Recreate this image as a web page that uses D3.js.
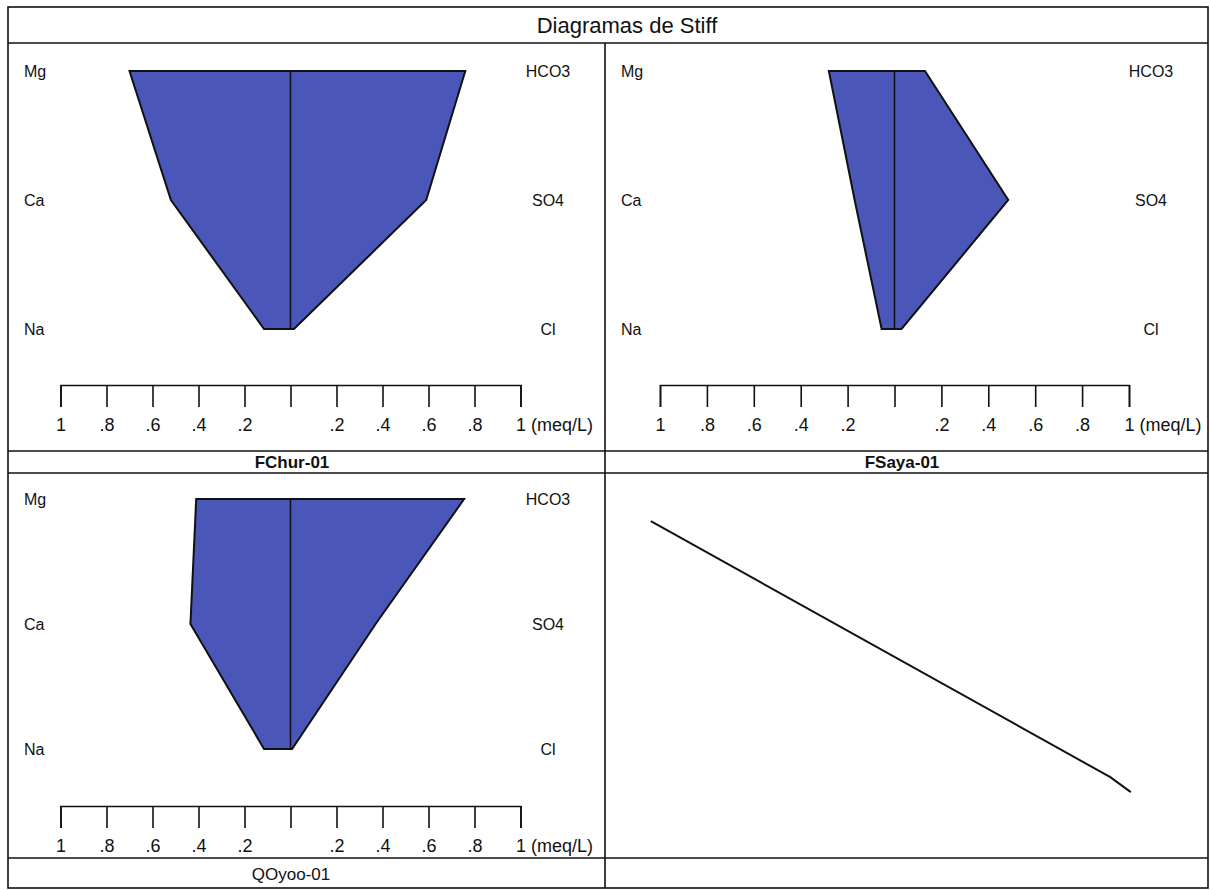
<!DOCTYPE html>
<html>
<head>
<meta charset="utf-8">
<script src="https://cdn.jsdelivr.net/npm/d3@7"></script>
<style>
  html, body { margin: 0; padding: 0; background: #fff; }
  svg { display: block; font-family: "Liberation Sans", Arial, sans-serif; }
</style>
</head>
<body>
<svg id="chart" width="1210" height="890"></svg>
<script>
// Stiff diagram data (meq/L)
const title = "Diagramas de Stiff";
const sampleNames = ["FChur-01", "FSaya-01", "QOyoo-01"];
const cationNames = ["Mg", "Ca", "Na"];
const anionNames = ["HCO3", "SO4", "Cl"];

const fchurCations = [0.70, 0.52, 0.115];
const fchurAnions  = [0.76, 0.59, 0.015];
const fsayaCations = [0.28, 0.17, 0.055];
const fsayaAnions  = [0.13, 0.485, 0.03];
const qoyooCations = [0.41, 0.435, 0.115];
const qoyooAnions  = [0.755, 0.37, 0.007];

const tickValues = [-1, -0.8, -0.6, -0.4, -0.2, 0, 0.2, 0.4, 0.6, 0.8, 1];
const unitLabel = "(meq/L)";

// stray trace in the fourth cell (fractions of the cell width / height)
const traceX = [0.076, 0.838, 0.872];
const traceY = [0.125, 0.79, 0.829];

const svg = d3.select("#chart");
const fill = "#4a57b8";

// frame
const frame = svg.append("g").attr("fill", "none").attr("stroke", "#111").attr("stroke-width", 1.6);
frame.append("rect").attr("x", 8).attr("y", 7).attr("width", 1200).attr("height", 881);
frame.append("line").attr("x1", 8).attr("x2", 1208).attr("y1", 43).attr("y2", 43);
frame.append("line").attr("x1", 605).attr("x2", 605).attr("y1", 43).attr("y2", 888);
frame.append("line").attr("x1", 8).attr("x2", 1208).attr("y1", 451).attr("y2", 451);
frame.append("line").attr("x1", 8).attr("x2", 1208).attr("y1", 473).attr("y2", 473);
frame.append("line").attr("x1", 8).attr("x2", 1208).attr("y1", 858).attr("y2", 858);

svg.append("text")
  .attr("x", 627).attr("y", 25)
  .attr("text-anchor", "middle").attr("dominant-baseline", "central")
  .attr("font-size", 22).attr("fill", "#111")
  .text(title);

const panels = [
  { name: sampleNames[0], cat: fchurCations, an: fchurAnions, x0: 8, x1: 605,
    range: [60.5, 520.5], rows: [71, 200, 329], axisY: 385, labelY: 462, bold: true, labelX: 292 },
  { name: sampleNames[1], cat: fsayaCations, an: fsayaAnions, x0: 605, x1: 1208,
    range: [660, 1129], rows: [71, 200, 329], axisY: 385, labelY: 462, bold: true, labelX: 902 },
  { name: sampleNames[2], cat: qoyooCations, an: qoyooAnions, x0: 8, x1: 605,
    range: [60.5, 520.5], rows: [499, 624, 749], axisY: 806, labelY: 874, bold: false, labelX: 291 }
];

panels.forEach(p => {
  const g = svg.append("g");
  const x = d3.scaleLinear().domain([-1, 1]).range(p.range);
  const y = d3.scalePoint().domain(cationNames).range([p.rows[0], p.rows[2]]);

  // polygon: anions down the right side, cations back up the left
  const pts = [];
  cationNames.forEach((c, i) => pts.push([x(p.an[i]), y(c)]));
  for (let i = cationNames.length - 1; i >= 0; i--) pts.push([x(-p.cat[i]), y(cationNames[i])]);

  g.append("path")
    .attr("d", d3.line()(pts) + "Z")
    .attr("fill", fill).attr("stroke", "#111").attr("stroke-width", 2)
    .attr("stroke-linejoin", "miter");

  g.append("line")
    .attr("x1", x(0)).attr("x2", x(0))
    .attr("y1", y(cationNames[0])).attr("y2", y(cationNames[2]))
    .attr("stroke", "#111").attr("stroke-width", 1.5);

  // ion labels
  cationNames.forEach(c => {
    g.append("text").attr("x", p.x0 + 16).attr("y", y(c))
      .attr("dominant-baseline", "central").attr("font-size", 16).attr("fill", "#111")
      .text(c);
  });
  anionNames.forEach((a, i) => {
    g.append("text").attr("x", p.x1 - 57).attr("y", y(cationNames[i]))
      .attr("text-anchor", "middle")
      .attr("dominant-baseline", "central").attr("font-size", 16).attr("fill", "#111")
      .text(a);
  });

  // scale bar
  const axis = d3.axisBottom(x)
    .tickValues(tickValues)
    .tickSize(22).tickSizeOuter(22).tickPadding(11)
    .tickFormat(v => {
      const a = Math.abs(v);
      if (a === 0) return "";
      if (a === 1) return "1";
      return d3.format(".1f")(a).replace(/^0/, "");
    });
  const ax = g.append("g").attr("transform", `translate(0,${p.axisY})`).call(axis);
  ax.select(".domain").attr("stroke", "#111").attr("stroke-width", 1.6);
  ax.selectAll(".tick line").attr("stroke", "#111").attr("stroke-width", 1.6);
  ax.selectAll(".tick text")
    .attr("font-size", 18).attr("font-family", "Liberation Sans, Arial, sans-serif")
    .attr("fill", "#111");
  // unit after the last tick label
  ax.selectAll(".tick").filter(d => d === 1).select("text")
    .attr("text-anchor", "start").attr("dx", "-0.28em")
    .text("1 " + unitLabel);

  g.append("text").attr("x", p.labelX).attr("y", p.labelY)
    .attr("text-anchor", "middle").attr("dominant-baseline", "central")
    .attr("font-size", 17).attr("font-weight", p.bold ? "bold" : "normal").attr("fill", "#111")
    .text(p.name);
});

// fourth cell: single trace
const tx = d3.scaleLinear().domain([0, 1]).range([605, 1208]);
const ty = d3.scaleLinear().domain([0, 1]).range([473, 858]);
svg.append("path")
  .attr("d", d3.line().x(d => tx(d[0])).y(d => ty(d[1]))(traceX.map((v, i) => [v, traceY[i]])))
  .attr("fill", "none").attr("stroke", "#111").attr("stroke-width", 2);
</script>
</body>
</html>
